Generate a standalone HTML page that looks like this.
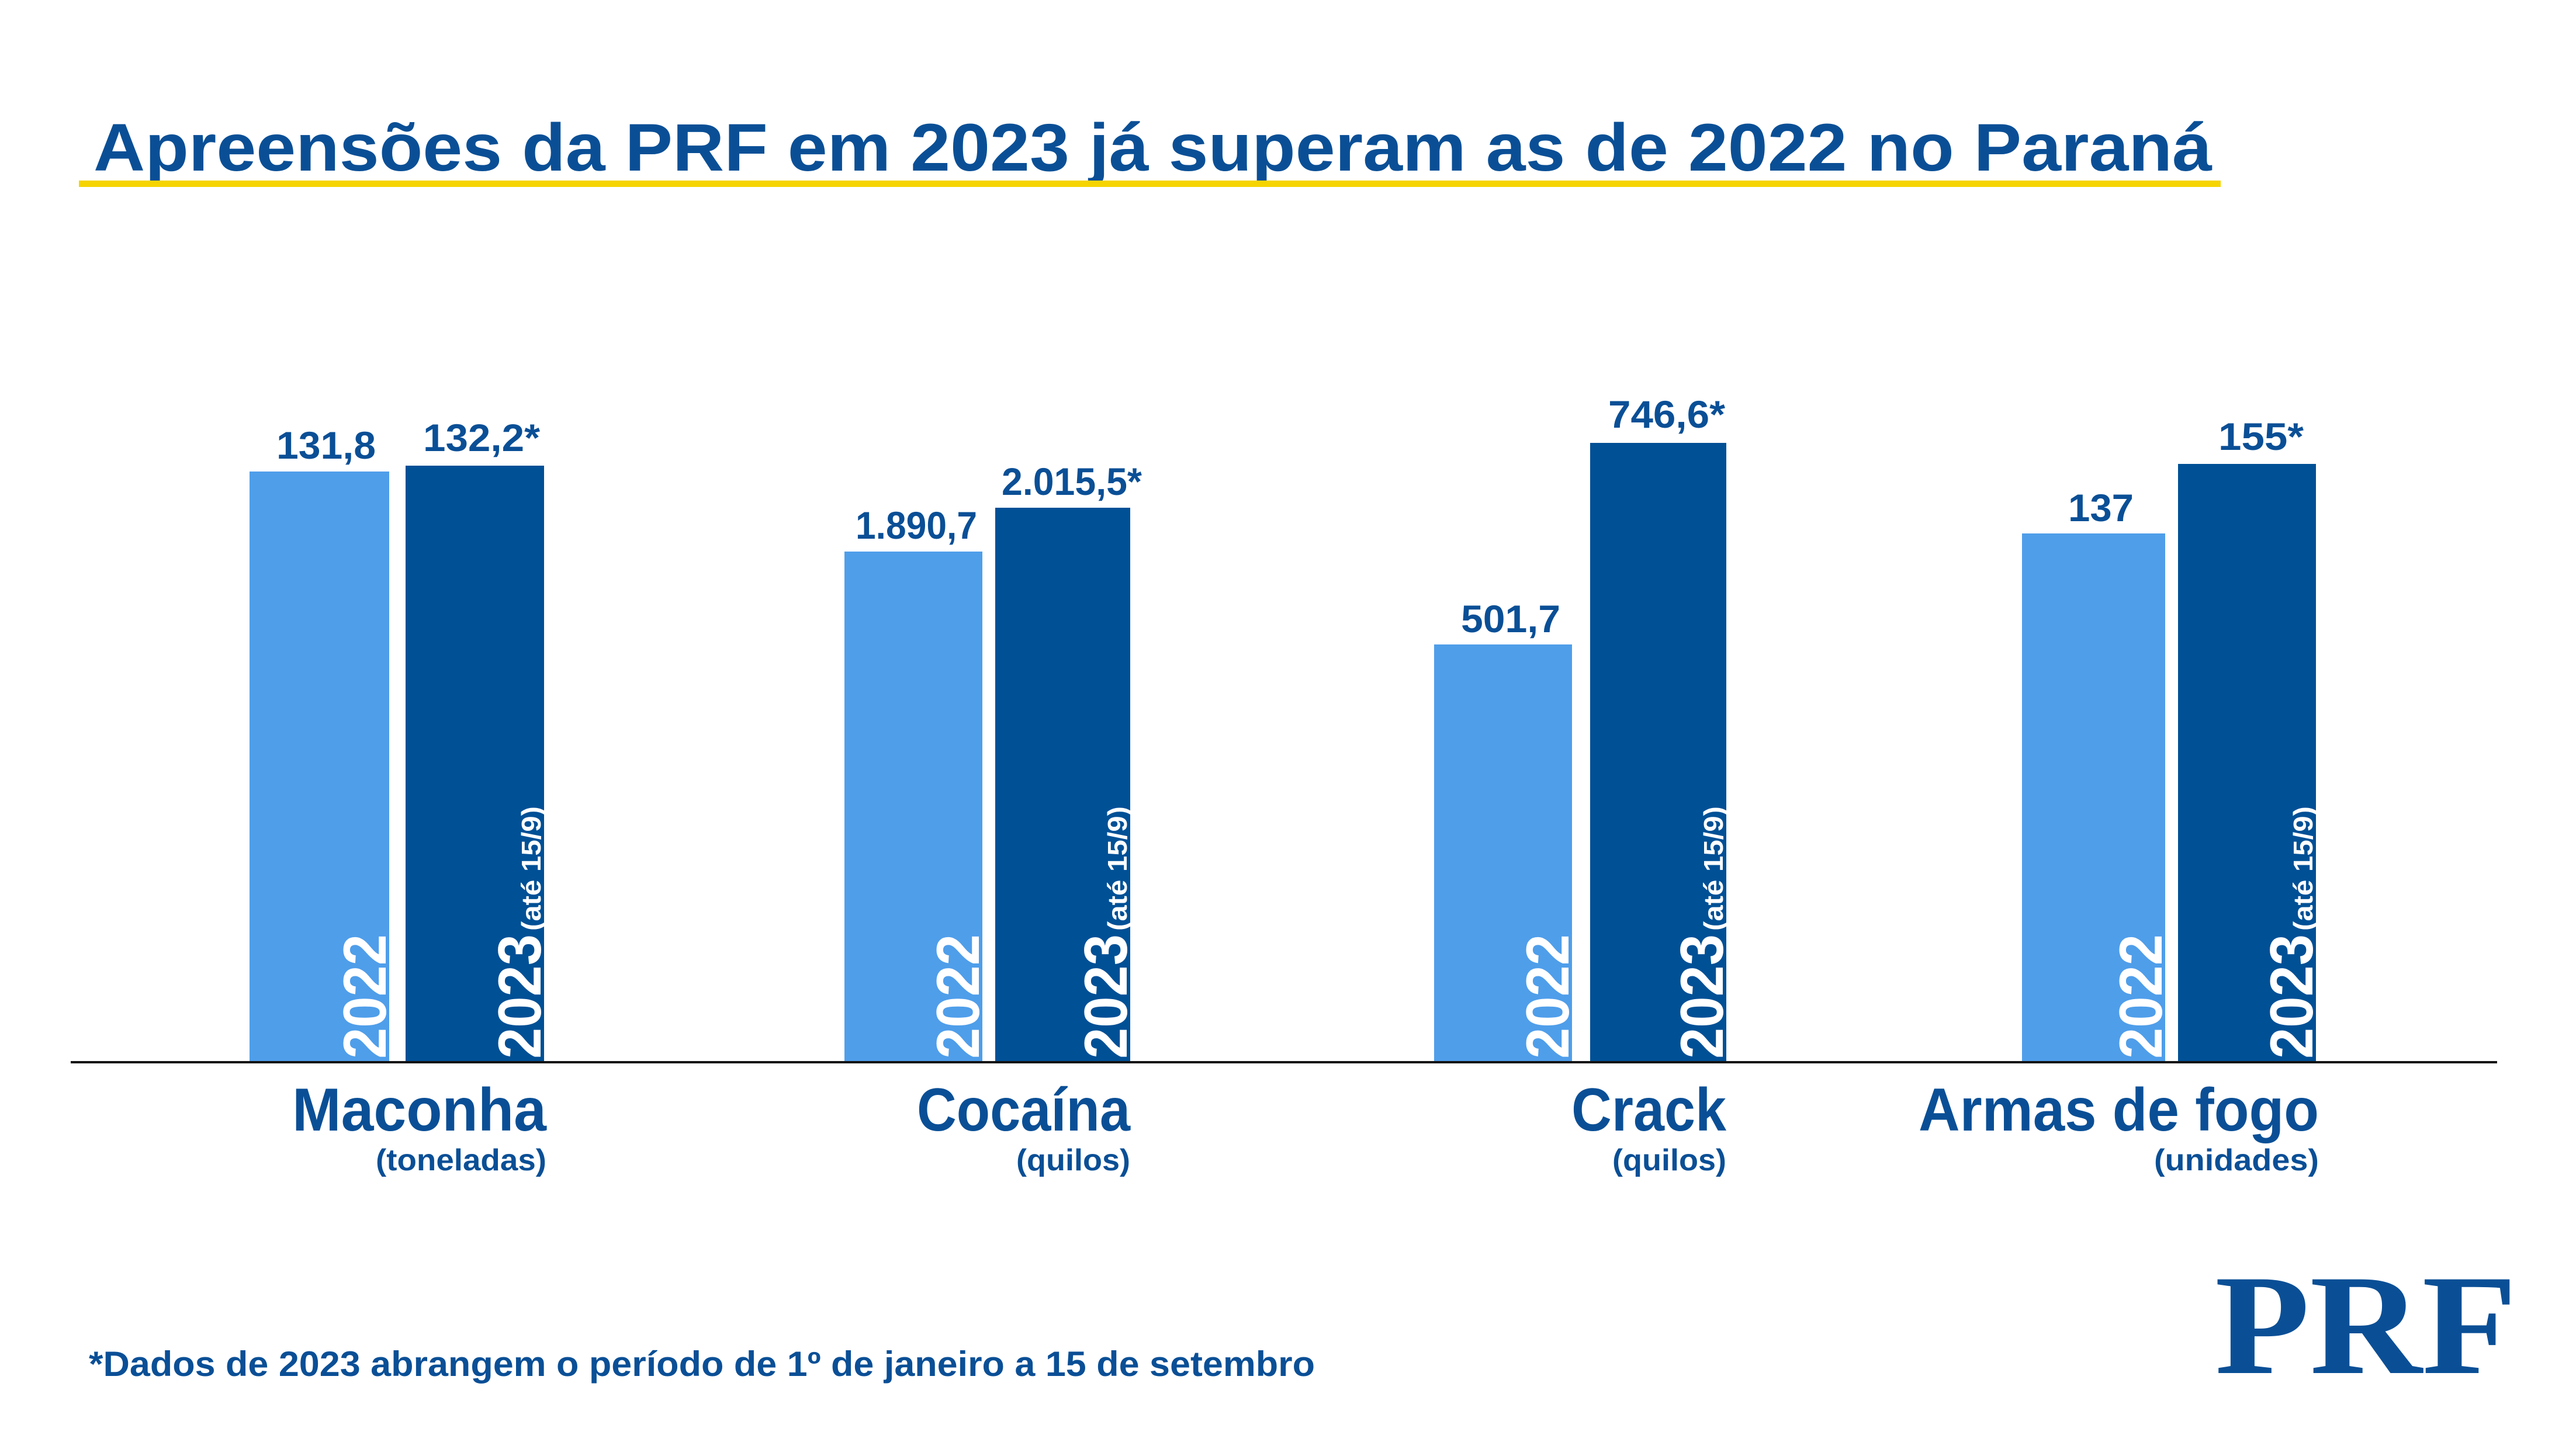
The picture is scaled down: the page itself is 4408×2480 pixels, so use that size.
<!DOCTYPE html>
<html><head><meta charset="utf-8"><style>
html,body{margin:0;padding:0;background:#fff;}
svg{display:block;}
text{font-family:"Liberation Sans",sans-serif;font-weight:bold;}
</style></head><body>
<svg width="4408" height="2480" viewBox="0 0 4408 2480" xmlns="http://www.w3.org/2000/svg">
<rect width="4408" height="2480" fill="#fff"/>
<text x="160" y="292" font-size="115" fill="#0a4f96" textLength="3625" lengthAdjust="spacingAndGlyphs">Apreensões da PRF em 2023 já superam as de 2022 no Paraná</text>
<rect x="135" y="309" width="3665" height="11" fill="#f5d400"/>
<g>
<rect x="427" y="807" width="239" height="1011" fill="#4f9eea"/>
<rect x="694" y="797" width="237" height="1021" fill="#005096"/>
<rect x="1445" y="944" width="236" height="874" fill="#4f9eea"/>
<rect x="1703" y="869" width="231" height="949" fill="#005096"/>
<rect x="2454" y="1103" width="236" height="715" fill="#4f9eea"/>
<rect x="2721" y="758" width="233" height="1060" fill="#005096"/>
<rect x="3460" y="913" width="245" height="905" fill="#4f9eea"/>
<rect x="3727" y="794" width="236" height="1024" fill="#005096"/>
</g>
<rect x="121" y="1816" width="4152" height="4" fill="#111"/>
<g font-size="66" fill="#0a4f96" text-anchor="middle">
<text x="558" y="785" textLength="170" lengthAdjust="spacingAndGlyphs">131,8</text>
<text x="824" y="772" textLength="200" lengthAdjust="spacingAndGlyphs">132,2*</text>
<text x="1568" y="922" textLength="208" lengthAdjust="spacingAndGlyphs">1.890,7</text>
<text x="1834" y="847" textLength="240" lengthAdjust="spacingAndGlyphs">2.015,5*</text>
<text x="2585" y="1082" textLength="170" lengthAdjust="spacingAndGlyphs">501,7</text>
<text x="2852" y="732" textLength="200" lengthAdjust="spacingAndGlyphs">746,6*</text>
<text x="3595" y="892" textLength="112" lengthAdjust="spacingAndGlyphs">137</text>
<text x="3869" y="770" textLength="146" lengthAdjust="spacingAndGlyphs">155*</text>
</g>
<g fill="#fff">
<text transform="translate(660,1812) rotate(-90)" font-size="104" textLength="213" lengthAdjust="spacingAndGlyphs">2022</text>
<text transform="translate(925,1812) rotate(-90)" font-size="104" textLength="213" lengthAdjust="spacingAndGlyphs">2023</text>
<text transform="translate(925,1593) rotate(-90)" font-size="46" textLength="213" lengthAdjust="spacingAndGlyphs">(até 15/9)</text>
<text transform="translate(1675,1812) rotate(-90)" font-size="104" textLength="213" lengthAdjust="spacingAndGlyphs">2022</text>
<text transform="translate(1928,1812) rotate(-90)" font-size="104" textLength="213" lengthAdjust="spacingAndGlyphs">2023</text>
<text transform="translate(1928,1593) rotate(-90)" font-size="46" textLength="213" lengthAdjust="spacingAndGlyphs">(até 15/9)</text>
<text transform="translate(2684,1812) rotate(-90)" font-size="104" textLength="213" lengthAdjust="spacingAndGlyphs">2022</text>
<text transform="translate(2948,1812) rotate(-90)" font-size="104" textLength="213" lengthAdjust="spacingAndGlyphs">2023</text>
<text transform="translate(2948,1593) rotate(-90)" font-size="46" textLength="213" lengthAdjust="spacingAndGlyphs">(até 15/9)</text>
<text transform="translate(3699,1812) rotate(-90)" font-size="104" textLength="213" lengthAdjust="spacingAndGlyphs">2022</text>
<text transform="translate(3957,1812) rotate(-90)" font-size="104" textLength="213" lengthAdjust="spacingAndGlyphs">2023</text>
<text transform="translate(3957,1593) rotate(-90)" font-size="46" textLength="213" lengthAdjust="spacingAndGlyphs">(até 15/9)</text>
</g>
<g fill="#0a4f96" text-anchor="end">
<text x="935" y="1935" font-size="104" textLength="435" lengthAdjust="spacingAndGlyphs">Maconha</text>
<text x="935" y="2003" font-size="52" textLength="292" lengthAdjust="spacingAndGlyphs">(toneladas)</text>
<text x="1934" y="1935" font-size="104" textLength="365" lengthAdjust="spacingAndGlyphs">Cocaína</text>
<text x="1934" y="2003" font-size="52" textLength="195" lengthAdjust="spacingAndGlyphs">(quilos)</text>
<text x="2954" y="1935" font-size="104" textLength="265" lengthAdjust="spacingAndGlyphs">Crack</text>
<text x="2954" y="2003" font-size="52" textLength="195" lengthAdjust="spacingAndGlyphs">(quilos)</text>
<text x="3968" y="1935" font-size="104" textLength="685" lengthAdjust="spacingAndGlyphs">Armas de fogo</text>
<text x="3968" y="2003" font-size="52" textLength="282" lengthAdjust="spacingAndGlyphs">(unidades)</text>
</g>
<text x="152" y="2355" font-size="60" fill="#0a4f96" textLength="2098" lengthAdjust="spacingAndGlyphs">*Dados de 2023  abrangem o período de 1º de janeiro a 15 de setembro</text>
<text x="3790" y="2350" font-size="245" fill="#0a4f96" textLength="517" lengthAdjust="spacingAndGlyphs" style="font-family:'Liberation Serif',serif;font-weight:bold">PRF</text>
</svg>
</body></html>
